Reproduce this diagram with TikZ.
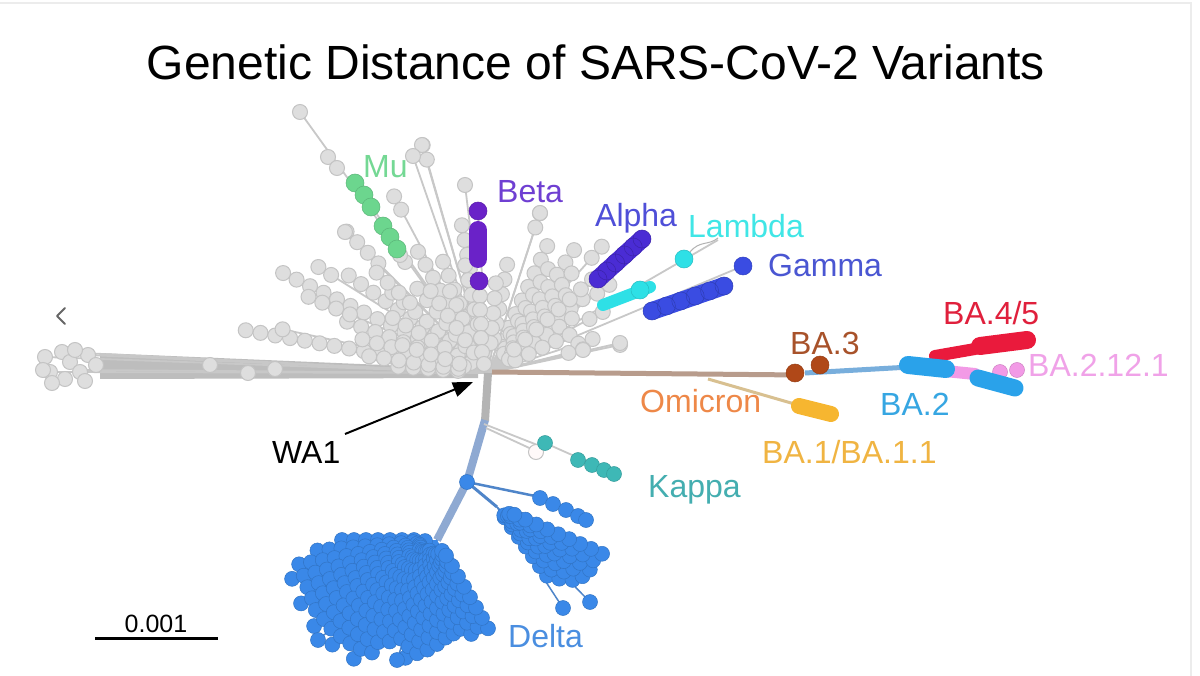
\documentclass[tikz,border=0pt]{standalone}
\usepackage{fontspec}
\setmainfont{Liberation Sans}
\usetikzlibrary{arrows.meta}
\definecolor{gfill}{HTML}{DEDEDE}
\definecolor{gedge}{HTML}{C4C4C4}
\definecolor{glinec}{HTML}{C8C8C8}
\definecolor{wedgec}{HTML}{BDBDBD}
\definecolor{borderc}{HTML}{ECECEC}
\definecolor{mu}{HTML}{6CD68E}
\definecolor{mut}{HTML}{74D894}
\definecolor{beta}{HTML}{6A22C8}
\definecolor{betat}{HTML}{6F3FD2}
\definecolor{alpha}{HTML}{4A2CD4}
\definecolor{alphat}{HTML}{4F4FD8}
\definecolor{lambda}{HTML}{2EE0E6}
\definecolor{lambdat}{HTML}{40E6E6}
\definecolor{gamma}{HTML}{3A4CE2}
\definecolor{gammat}{HTML}{4A56D2}
\definecolor{bathree}{HTML}{B04818}
\definecolor{bathreet}{HTML}{A8522A}
\definecolor{brtan}{HTML}{B89C8C}
\definecolor{omit}{HTML}{EE8848}
\definecolor{omiline}{HTML}{D8C090}
\definecolor{baone}{HTML}{F6B630}
\definecolor{baonet}{HTML}{F0B442}
\definecolor{batwo}{HTML}{2AA2EA}
\definecolor{batwot}{HTML}{36A6E2}
\definecolor{batwoline}{HTML}{78AEDC}
\definecolor{bafour}{HTML}{EA1A3C}
\definecolor{bafourt}{HTML}{E0203C}
\definecolor{bapink}{HTML}{F29AE6}
\definecolor{bapinkt}{HTML}{F0A2E8}
\definecolor{kappa}{HTML}{3EB8B6}
\definecolor{kappat}{HTML}{44AEB0}
\definecolor{delta}{HTML}{3A88E8}
\definecolor{deltat}{HTML}{4A8EE0}
\definecolor{trunk}{HTML}{8EA9D2}
\newcommand\gd[2]{\filldraw[fill=gfill,draw=gedge,line width=1pt] ({#1},{#2}) circle (7.5pt);}
\newcommand\cd[3]{\filldraw[fill=#1,draw=#1!85!black,line width=.5pt] ({#2},{#3}) circle (7.5pt);}
\newcommand\cdb[3]{\filldraw[fill=#1,draw=#1!85!black,line width=.5pt] ({#2},{#3}) circle (9pt);}
\newcommand\blobline[6]{\draw[#1,line width=#2,line cap=round] (#3,#4) -- (#5,#6);}
\def\upleft{154/228/40,170/246/30,160/150/30,145/170/30,135/200/150,140/125/20,150/110/20,165/130/25,120/140/30,112/120/25,130/110/25,176/90/20,100/150/30,106/237/215,115/90/20,157/195/150,148/200/175,138/150/100,168/210/200,118/200/185,102/110/20,125/100/20,172/120/20,162/90/20}
\def\upright{72/168/150,65/140/30,60/120/25,55/150/30,50/130/25,45/110/25,38/120/25,33/100/20,28/130/110,25/90/20,18/110/90,14/98/80,12/135/135,80/110/25,85/90/20,42/140/30,48/170/150,36/150/130}
\def\deltarays{180/95,185/120,190/140,195/150,200/138,205/150,210/140,215/150,220/138,225/148,230/135,235/145,240/130,245/112,250/105,255/122,260/115,265/110,270/104,275/98,280/95,285/92,290/100,295/96,300/102}
\begin{document}
\begin{tikzpicture}[x=1pt,y=-1pt,
  lab/.style={font=\fontsize{32}{38}\selectfont,inner sep=0pt,anchor=base west},
  gl/.style={draw=glinec,line width=1.8pt},
  ]
\useasboundingbox (0,0) rectangle (1200,676);
\fill[white] (0,0) rectangle (1200,676);
\draw[borderc,line width=2pt] (0,3) -- (1191,3) -- (1191,676);
% chevron
\draw[black!60,line width=2pt,line cap=round,line join=round] (65,308) -- (57,316) -- (65,324);
\coordinate (R) at (488,373);
% ---------- gray lines ----------
\fill[wedgec] (100,353) -- (478,369) -- (478,378) -- (100,379) -- cycle;
\foreach \p in {(45,357),(62,352),(88,355),(50,372),(80,370)} {\draw[gl] (R) -- \p;}
\foreach \a/\L/\m in \upleft {\draw[gl] (R) -- ({488+\L*cos(\a)},{373-\L*sin(\a)});}
\foreach \a/\L/\m in \upright {\draw[gl] (R) -- ({488+\L*cos(\a)},{373-\L*sin(\a)});}
\foreach \p in {(300,112),(355,183),(345,232),(422,145),(413,156),(465,185),(478,210),(540,213),(620,343),(583,350),(643,238),(718,240),(743,266)} {\draw[gl] (R) -- \p;}
% trunk
\draw[glinec!90!black,line width=8pt] (R) -- (485,421);
\draw[trunk,line width=8pt,line join=round] (485,420) -- (467,482) -- (437,540);
% omicron branches
\draw[brtan,line width=5pt] (492,372) -- (800,375);
\draw[omiline,line width=3pt] (708,379) -- (798,405);
\draw[batwoline,line width=5pt] (805,373) -- (910,367);
\draw[batwoline,line width=4pt] (945,370) -- (985,381);
% kappa lines
\draw[gl] (484,424) -- (540,446);
\draw[gl] (486,428) -- (538,452);
\draw[gl] (545,443) -- (615,474);
% ---------- gray beads ----------
\foreach \x/\y in {45/357,62/352,88/355,50/372,70/362,80/372,96/365,43/370,65/379,52/383,85/381,75/350,210/365,248/373,275/369} {\gd{\x}{\y}}
\foreach \a/\L/\m in \upleft {
  \pgfmathsetmacro\n{int((\L-\m)/15)}
  \foreach \k in {0,...,\n}{\pgfmathsetmacro\r{\L-15*\k}\gd{488+\r*cos(\a)}{373-\r*sin(\a)}}
}
\foreach \a/\L/\m in \upright {
  \pgfmathsetmacro\n{int((\L-\m)/15)}
  \foreach \k in {0,...,\n}{\pgfmathsetmacro\r{\L-15*\k}\gd{488+\r*cos(\a)}{373-\r*sin(\a)}}
}
\foreach \x/\y in {300/112,328/157,337/168,345/232,422/145,413/156,465/185,540/213,620/343,583/350,480/296,480/310,481/324,481/338,482/352,484/364,405/262,400/255} {\gd{\x}{\y}}
% ---------- coloured clades ----------
% Mu
\foreach \x/\y in {355/183,364/195,371/207,383/226,390/237,397/249} {\cdb{mu}{\x}{\y}}
% Beta
\cdb{beta}{478}{211}
\blobline{beta}{18pt}{478}{230}{478}{259}
\cdb{beta}{479}{281}
% Alpha
\blobline{alpha}{18pt}{598}{279}{642}{239}
\foreach \t in {0,0.2,...,1} {\draw[alpha!80!black,line width=.5pt] ({598+44*\t},{279-40*\t}) circle (9pt);}
% Lambda
\blobline{lambda}{12pt}{603}{305}{650}{287}
\cdb{lambda}{684}{259}
\cdb{lambda}{640}{290}
\draw[gray!60,line width=1pt] (690,252) .. controls (700,240) and (708,246) .. (718,238);
% Gamma
\blobline{gamma}{18pt}{652}{311}{724}{286}
\foreach \t in {0,0.2,...,1} {\draw[gamma!80!black,line width=.5pt] ({652+72*\t},{311-25*\t}) circle (9pt);}
\cdb{gamma}{743}{266}
% Omicron group
\cdb{bathree}{795}{373}
\cdb{bathree}{820}{365}
\blobline{baone}{16pt}{799}{406}{831}{414}
\blobline{bafour}{12pt}{935}{356}{975}{349}
\blobline{bafour}{18pt}{980}{346}{1027}{340}
\blobline{bapink}{12pt}{945}{371}{975}{374}
\cd{bapink}{1000}{372}
\cd{bapink}{1017}{370}
\blobline{batwo}{18pt}{908}{365}{946}{369}
\blobline{batwo}{17pt}{978}{378}{1015}{388}
% Kappa
\filldraw[fill=white!90!pink,draw=gedge,line width=1pt] (536,452) circle (7.5pt);
\foreach \x/\y in {545/443,578/460,592/465,604/470,614/474} {\cd{kappa}{\x}{\y}}
% ---------- Delta ----------
\draw[delta!70!gray,line width=3pt] (467,482) -- (497,507);
\draw[delta!70!gray,line width=2.5pt] (467,482) -- (540,497);
\draw[delta!70!gray,line width=1.5pt] (497,507) -- (563,608);
\draw[delta!70!gray,line width=1.5pt] (497,507) -- (590,602);
\draw[delta!70!gray,line width=1.5pt] (437,540) -- (397,660);
\draw[delta!70!gray,line width=1.5pt] (437,540) -- (318,640);
\fill[delta] (437,540) \foreach \a/\L in \deltarays {-- ({437+(\L-4)*cos(\a)},{540-(\L-4)*sin(\a)})} -- cycle;
\foreach \a/\L in \deltarays {
  \pgfmathsetmacro\n{int((\L-12)/12)}
  \foreach \k in {0,...,\n}{\pgfmathsetmacro\r{\L-12*\k}\cd{delta}{437+\r*cos(\a)}{540-\r*sin(\a)}}
}
\foreach \x/\y in {397/660,318/640,563/608,590/602,467/482} {\cd{delta}{\x}{\y}}
\foreach \a/\L in {306/85,311/95,316/105,321/110,326/112,331/110,336/115} {
  \pgfmathsetmacro\n{int((\L-10)/12)}
  \foreach \k in {0,...,\n}{\pgfmathsetmacro\r{\L-12*\k}\cd{delta}{497+\r*cos(\a)}{507-\r*sin(\a)}}
}
\foreach \x/\y in {540/498,553/504,566/510,578/516,586/520} {\cd{delta}{\x}{\y}}
% ---------- labels ----------
\node[font=\fontsize{48}{56}\selectfont,inner sep=0pt,anchor=base] (title) at (596,80) {Genetic Distance of SARS-CoV-2 Variants};
\node[lab,text=mut] (lmu) at (363,178) {Mu};
\node[lab,text=betat] (lbeta) at (497,203) {Beta};
\node[lab,text=alphat] (lalpha) at (595,227) {Alpha};
\node[lab,text=lambdat] (llambda) at (688,238) {Lambda};
\node[lab,text=gammat] (lgamma) at (768,277) {Gamma};
\node[lab,text=bathreet] (lba3) at (790,355) {BA.3};
\node[lab,text=bafourt] (lba45) at (943,325) {BA.4/5};
\node[lab,text=bapinkt] (lba2121) at (1028,377) {BA.2.12.1};
\node[lab,text=batwot] (lba2) at (880,415) {BA.2};
\node[lab,text=omit] (lomi) at (640,413) {Omicron};
\node[lab,text=baonet] (lba1) at (762,463) {BA.1/BA.1.1};
\node[lab,text=kappat] (lkappa) at (648,497) {Kappa};
\node[lab,text=deltat] (ldelta) at (508,647) {Delta};
\node[lab,text=black] (lwa) at (272,463) {WA1};
\coordinate (wastart) at (345,434);
\coordinate (watip) at (473,382);
\draw[line width=2pt,-{Triangle[length=20pt,width=15pt]}] (wastart) -- (watip);
% scale bar
\node[font=\fontsize{25}{30}\selectfont,inner sep=0pt,anchor=base] (scl) at (156,632) {0.001};
\coordinate (sbl) at (95,638);
\coordinate (sbr) at (218,638);
\draw[line width=3pt] (sbl) -- (sbr);
\end{tikzpicture}
\end{document}
